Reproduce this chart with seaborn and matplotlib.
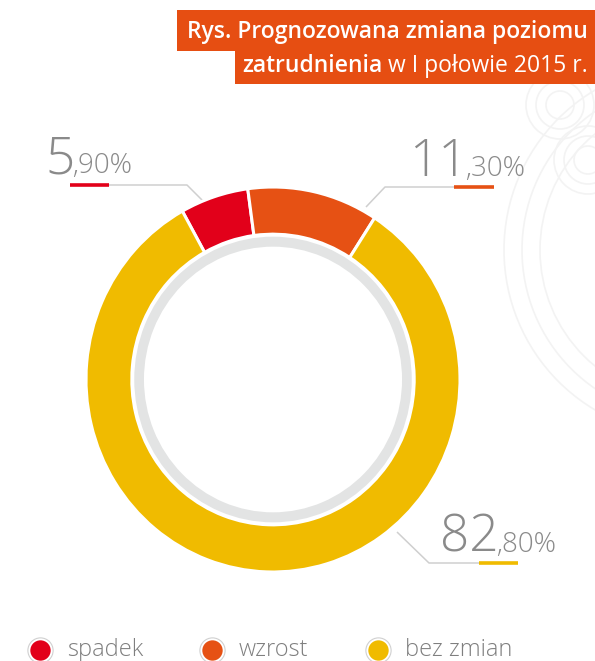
import matplotlib.pyplot as plt
from matplotlib.patches import Rectangle, Circle
import seaborn as sns

# data
categories = ['spadek', 'wzrost', 'bez zmian']
values = [5.9, 11.3, 82.8]
colors = ['#e2001a', '#e65114', '#f0bb00']

title_bold_1 = 'Rys. Prognozowana zmiana poziomu'
title_bold_2 = 'zatrudnienia'
title_rest_2 = ' w I połowie 2015 r.'

sns.set_theme(style='white')
plt.rcParams['font.family'] = ['Open Sans', 'DejaVu Sans']

W, H = 595, 661
fig = plt.figure(figsize=(W / 100, H / 100), dpi=100)

# overlay axes in pixel coordinates
ov = fig.add_axes([0, 0, 1, 1])
ov.set_xlim(0, W)
ov.set_ylim(H, 0)
ov.axis('off')

# faint decorative background rings
for r in [150, 168, 186]:
    ov.add_patch(Circle((690, 250), r, fill=False, ec='#f3f3f3', lw=1.2))
for cx, cy in [(560, 105), (588, 160)]:
    for r in [14, 24, 34]:
        ov.add_patch(Circle((cx, cy), r, fill=False, ec='#f3f3f3', lw=1.2))

# donut axes
ax = fig.add_axes([86 / W, (H - 572) / H, 374 / W, 385 / H])
ax.pie(values, colors=colors, startangle=119, counterclock=False, radius=1,
       wedgeprops=dict(width=0.245, edgecolor='white', linewidth=2.2))
ax.pie([1], colors=['#e3e4e4'], radius=0.742,
       wedgeprops=dict(width=0.052, edgecolor='none'))
ax.set_aspect('auto')
ax.set_xlim(-1, 1)
ax.set_ylim(-1, 1)
ax.axis('off')

# title boxes
orange_box = '#e64e12'
ov.add_patch(Rectangle((177, 10), W - 177, 41, color=orange_box, lw=0))
ov.add_patch(Rectangle((235, 50), W - 235, 34, color=orange_box, lw=0))
ov.text(588, 38, title_bold_1, color='white', fontsize=16.5,
        fontweight='semibold', ha='right', va='baseline')
t2 = ov.text(588, 72, title_rest_2, color='white', fontsize=16.5,
             ha='right', va='baseline')
fig.canvas.draw()
x_split = t2.get_window_extent().x0
ov.annotate(title_bold_2, xy=(x_split, H - 72), xycoords='figure pixels',
            color='white', fontsize=16.5, fontweight='semibold',
            ha='right', va='baseline')

# value labels: (split x, baseline y), underline, leader line
label_pos = [(75, 173), (468, 176), (499, 552)]
underlines = [(70, 109, 185), (454, 494, 187), (479, 518, 563)]
leaders = [[(109, 185), (187, 185), (207, 205)],
           [(454, 187), (385, 187), (366, 207)],
           [(479, 563), (429, 563), (397, 532)]]
gray_txt = '#8a8a8a'
for v, c, (sx, by), (u0, u1, uy), pts in zip(values, colors, label_pos,
                                             underlines, leaders):
    ip = int(v)
    dec = f'{v:.2f}'.split('.')[1]
    ov.text(sx, by, str(ip), color=gray_txt, fontsize=37, fontweight='light',
            ha='right', va='baseline')
    ov.text(sx - 3, by, f',{dec}%', color=gray_txt, fontsize=20,
            fontweight='light', ha='left', va='baseline')
    xs = [p[0] for p in pts]
    ys = [p[1] for p in pts]
    ov.plot(xs, ys, color='#cfcfcf', lw=1.1, solid_capstyle='butt')
    ov.plot([u0, u1], [uy, uy], color=c, lw=2.6, solid_capstyle='butt')

# legend
leg_x = [40, 212, 378]
leg_y = 650
for name, c, lx in zip(categories, colors, leg_x):
    ov.scatter([lx], [leg_y], s=330, facecolor='white', edgecolor='#d0d0d0',
               linewidth=0.8, zorder=3)
    ov.scatter([lx], [leg_y], s=215, color=c, linewidth=0, zorder=4)
    ov.text(lx + 27, leg_y + 6, name, color='#7f7f7f', fontsize=17,
            fontweight='light', ha='left', va='baseline')

fig.savefig('out.png', dpi=100)
